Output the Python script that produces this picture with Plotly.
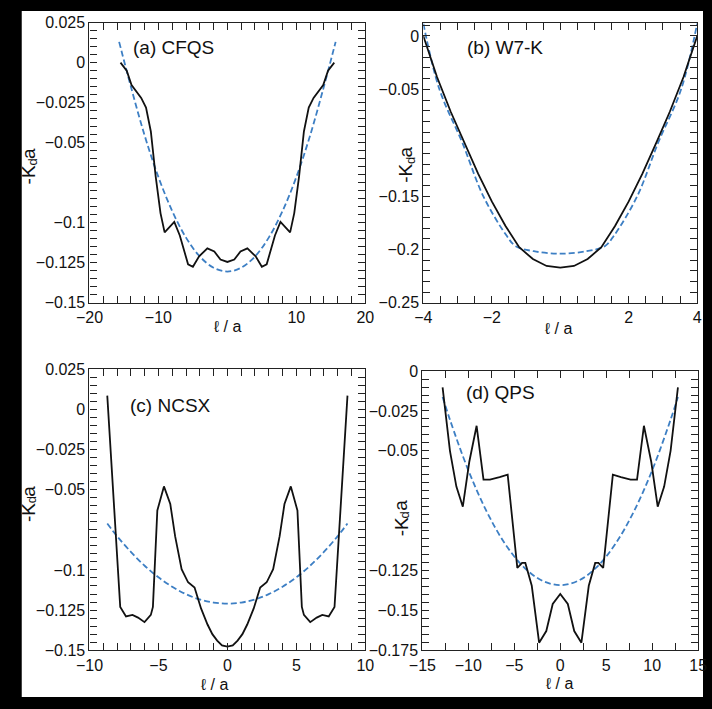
import plotly.graph_objects as go

# ---------------- data ----------------
# (a) CFQS
a_x = [-15.5, -14.6, -13.9, -12.5, -11.8, -11.1, -10.4, -9.7, -9.1, -7.7, -6.9, -5.7, -5.0, -4.1, -2.9, -1.9, -1.0, 0.0,
       1.0, 1.9, 2.9, 4.1, 5.0, 5.7, 6.9, 7.7, 9.1, 9.7, 10.4, 11.1, 11.8, 12.5, 13.9, 14.6, 15.5]
a_black = [0.0, -0.005, -0.014, -0.022, -0.028, -0.043, -0.071, -0.094, -0.106, -0.0995, -0.108, -0.126, -0.1275, -0.121,
           -0.116, -0.118, -0.123, -0.1245,
           -0.123, -0.118, -0.116, -0.121, -0.1275, -0.126, -0.108, -0.0995, -0.106, -0.094, -0.071, -0.043, -0.028,
           -0.022, -0.014, -0.005, 0.0]
a_fit_x = [-15.7, -14, -12, -10, -8, -6, -4, -2, 0, 2, 4, 6, 8, 10, 12, 14, 15.7]
a_fit = [0.013, -0.0149, -0.0455, -0.0715, -0.0927, -0.1093, -0.1211, -0.1281, -0.1305,
         -0.1281, -0.1211, -0.1093, -0.0927, -0.0715, -0.0455, -0.0149, 0.013]

# (b) W7-K
b_x = [-4.0, -3.6, -3.2, -2.8, -2.4, -2.0, -1.6, -1.2, -0.8, -0.4, 0.0, 0.4, 0.8, 1.2, 1.6, 2.0, 2.4, 2.8, 3.2, 3.6, 4.0]
b_black = [0.0, -0.0385, -0.071, -0.1005, -0.129, -0.155, -0.178, -0.198, -0.209, -0.2155, -0.217,
           -0.2155, -0.209, -0.198, -0.178, -0.155, -0.129, -0.1005, -0.071, -0.0385, 0.0]
b_fit_x = [-4.0, -3.53, -2.86, -2.25, -1.58, -1.3, -0.77, 0.0, 0.77, 1.3, 1.58, 2.25, 2.86, 3.53, 4.0]
b_fit = [0.0116, -0.05, -0.1, -0.15, -0.1866, -0.197, -0.2017, -0.204, -0.2017, -0.197, -0.1866, -0.15, -0.1, -0.05, 0.0116]

# (c) NCSX
c_x = [-8.71, -7.77, -7.35, -6.88, -6.48, -6.01, -5.55, -5.4, -5.08, -4.6, -4.14, -3.79, -3.32, -2.85, -2.38, -1.91,
       -1.44, -1.09, -0.74, -0.39, 0.0,
       0.39, 0.74, 1.09, 1.44, 1.91, 2.38, 2.85, 3.32, 3.79, 4.14, 4.6, 5.08, 5.4, 5.55, 6.01, 6.48, 6.88, 7.35, 7.77, 8.71]
c_black = [0.0085, -0.123, -0.129, -0.128, -0.1297, -0.1325, -0.128, -0.123, -0.063, -0.048, -0.059, -0.079, -0.0996,
           -0.1077, -0.111, -0.124, -0.134, -0.140, -0.144, -0.147, -0.1478,
           -0.147, -0.144, -0.140, -0.134, -0.124, -0.111, -0.1077, -0.0996, -0.079, -0.059, -0.048, -0.063, -0.123,
           -0.128, -0.1325, -0.1297, -0.128, -0.129, -0.123, 0.0085]
c_fit_x = [-8.71, -8, -7, -6, -5, -4, -3, -2, -1, 0, 1, 2, 3, 4, 5, 6, 7, 8, 8.71]
c_fit = [-0.0711, -0.079, -0.0888, -0.0974, -0.1046, -0.1105, -0.1151, -0.1184, -0.1203, -0.121,
         -0.1203, -0.1184, -0.1151, -0.1105, -0.1046, -0.0974, -0.0888, -0.079, -0.0711]

# (d) QPS
d_x = [-12.8, -12.0, -11.3, -10.6, -9.9, -9.1, -8.35, -7.65, -6.6, -5.72, -4.67, -4.15, -3.8, -3.1, -2.3, -1.52, -0.82,
       0.0,
       0.82, 1.52, 2.3, 3.1, 3.8, 4.15, 4.67, 5.72, 6.6, 7.65, 8.35, 9.1, 9.9, 10.6, 11.3, 12.0, 12.8]
d_black = [-0.0102, -0.050, -0.0724, -0.085, -0.057, -0.0343, -0.068, -0.068, -0.0665, -0.065, -0.1234, -0.1203,
           -0.1203, -0.1346, -0.1703, -0.163, -0.146, -0.1397,
           -0.146, -0.163, -0.1703, -0.1346, -0.1203, -0.1203, -0.1234, -0.065, -0.0665, -0.068, -0.068, -0.0343,
           -0.057, -0.085, -0.0724, -0.050, -0.0102]
d_fit_x = [-12.8, -12, -10, -8, -6, -4, -2, 0, 2, 4, 6, 8, 10, 12, 12.8]
d_fit = [-0.0162, -0.0305, -0.0622, -0.0881, -0.1083, -0.1227, -0.1313, -0.1342,
         -0.1313, -0.1227, -0.1083, -0.0881, -0.0622, -0.0305, -0.0162]

panel_titles = ["(a) CFQS", "(b) W7-K", "(c) NCSX", "(d) QPS"]

# labelled major ticks
a_xticks = [-20, -10, 10, 20]
a_xlabels = ["−20", "−10", "10", "20"]
a_yticks = [0.025, 0, -0.025, -0.05, -0.1, -0.125, -0.15]
a_ylabels = ["0.025", "0", "−0.025", "−0.05", "−0.1", "−0.125", "−0.15"]
b_xticks = [-4, -2, 2, 4]
b_xlabels = ["−4", "−2", "2", "4"]
b_yticks = [0, -0.05, -0.15, -0.2, -0.25]
b_ylabels = ["0", "−0.05", "−0.15", "−0.2", "−0.25"]
c_xticks = [-10, -5, 0, 5, 10]
c_xlabels = ["−10", "−5", "0", "5", "10"]
c_yticks = [0.025, 0, -0.025, -0.05, -0.1, -0.125, -0.15]
c_ylabels = ["0.025", "0", "−0.025", "−0.05", "−0.1", "−0.125", "−0.15"]
d_xticks = [-15, -10, -5, 0, 5, 10, 15]
d_xlabels = ["−15", "−10", "−5", "0", "5", "10", "15"]
d_yticks = [0, -0.025, -0.05, -0.125, -0.15, -0.175]
d_ylabels = ["0", "−0.025", "−0.05", "−0.125", "−0.15", "−0.175"]

# unlabelled major ticks (label hidden behind axis title in the original)
a_xbare, a_ybare = [0], [-0.075]
b_xbare, b_ybare = [0], [-0.1]
c_xbare, c_ybare = [], [-0.075]
d_xbare, d_ybare = [], [-0.075, -0.1]

# ---------------- figure ----------------
W, H = 712, 709
FONT = "Liberation Sans, Arial, sans-serif"
BLACK = "#111111"
BLUE = "#3d7fc4"
AX = "#222222"
TXT = "#111111"

fig = go.Figure()

panels = [
    dict(x=a_x, y=a_black, fx=a_fit_x, fy=a_fit, xr=[-20, 20], yr=[-0.15, 0.025], xt=a_xticks, xl=a_xlabels,
         yt=a_yticks, yl=a_ylabels, xb=a_xbare, yb=a_ybare, xminor=2, yminor=0.005, px=(78, 363), py=(15, 302)),
    dict(x=b_x, y=b_black, fx=b_fit_x, fy=b_fit, xr=[-4, 4], yr=[-0.25, 0.0125], xt=b_xticks, xl=b_xlabels,
         yt=b_yticks, yl=b_ylabels, xb=b_xbare, yb=b_ybare, xminor=0.5, yminor=0.01, px=(423, 706), py=(15, 302)),
    dict(x=c_x, y=c_black, fx=c_fit_x, fy=c_fit, xr=[-10, 10], yr=[-0.15, 0.025], xt=c_xticks, xl=c_xlabels,
         yt=c_yticks, yl=c_ylabels, xb=c_xbare, yb=c_ybare, xminor=1, yminor=0.005, px=(78, 363), py=(370, 658)),
    dict(x=d_x, y=d_black, fx=d_fit_x, fy=d_fit, xr=[-15, 15], yr=[-0.175, 0], xt=d_xticks, xl=d_xlabels,
         yt=d_yticks, yl=d_ylabels, xb=d_xbare, yb=d_ybare, xminor=2.5, yminor=0.005, px=(422, 707), py=(372, 658)),
]

tickfont = dict(family=FONT, size=16, color=TXT)

for i, p in enumerate(panels, start=1):
    xa = "x" if i == 1 else f"x{i}"
    ya = "y" if i == 1 else f"y{i}"
    fig.add_trace(go.Scatter(x=p["fx"], y=p["fy"], mode="lines", xaxis=xa, yaxis=ya,
                             line=dict(color=BLUE, width=1.8, dash="6px,3px", shape="spline", smoothing=1.0),
                             showlegend=False, hoverinfo="skip"))
    fig.add_trace(go.Scatter(x=p["x"], y=p["y"], mode="lines", xaxis=xa, yaxis=ya,
                             line=dict(color=BLACK, width=1.8),
                             showlegend=False, hoverinfo="skip"))
    x0, x1 = p["px"]
    y0, y1 = p["py"]
    xdom = [x0 / W, x1 / W]
    ydom = [1 - y1 / H, 1 - y0 / H]
    common = dict(showline=True, linecolor=AX, linewidth=1.2, mirror="allticks", ticks="inside",
                  ticklen=7, tickwidth=1.2, tickcolor=AX, showgrid=False, zeroline=False,
                  tickfont=tickfont, tickmode="array")
    fig.layout["xaxis" if i == 1 else f"xaxis{i}"] = dict(
        domain=xdom, range=p["xr"], anchor=ya, tickvals=p["xt"], ticktext=p["xl"],
        minor=dict(ticks="inside", ticklen=4, tickwidth=1, tickcolor=AX, dtick=p["xminor"],
                   tick0=0, showgrid=False),
        **common)
    fig.layout["yaxis" if i == 1 else f"yaxis{i}"] = dict(
        domain=ydom, range=p["yr"], anchor=xa, tickvals=p["yt"], ticktext=p["yl"],
        minor=dict(ticks="inside", ticklen=4, tickwidth=1, tickcolor=AX, dtick=p["yminor"],
                   tick0=0, showgrid=False),
        **common)

    # overlay axes that only carry the unlabelled long ticks
    ox = f"x{i + 4}"
    oy = f"y{i + 4}"
    bare = dict(showline=False, ticks="inside", ticklen=7, tickwidth=1.2, tickcolor=AX, showgrid=False,
                zeroline=False, showticklabels=False, tickmode="array", mirror="allticks")
    fig.layout[f"xaxis{i + 4}"] = dict(domain=xdom, range=p["xr"], overlaying=xa, anchor=ya,
                                        tickvals=p["xb"], **bare)
    fig.layout[f"yaxis{i + 4}"] = dict(domain=ydom, range=p["yr"], overlaying=ya, anchor=xa,
                                        tickvals=p["yb"], **bare)
    fig.add_trace(go.Scatter(x=[p["xr"][0]], y=[p["yr"][0]], xaxis=ox, yaxis=ya, mode="markers",
                             marker=dict(opacity=0), showlegend=False, hoverinfo="skip"))
    fig.add_trace(go.Scatter(x=[p["xr"][0]], y=[p["yr"][0]], xaxis=xa, yaxis=oy, mode="markers",
                             marker=dict(opacity=0), showlegend=False, hoverinfo="skip"))

ann = []


def paper_text(text, px, py, size, angle=0, xanchor="center"):
    ann.append(dict(text=text, x=px / W, y=1 - py / H, xref="paper", yref="paper", xanchor=xanchor,
                    yanchor="middle", textangle=angle, showarrow=False,
                    font=dict(family=FONT, size=size, color=TXT)))


title_pos = [(121, 40), (466, 40), (118, 407), (465, 394)]
for t, (tx, ty) in zip(panel_titles, title_pos):
    paper_text(t, tx, ty, 19, xanchor="left")

# rotated y titles "-K_d a", built from pieces (main text, smaller lowered subscript)
ylab_pos = [(15, 162), (405, 160), (15, 508), (400, 523)]
for (cx, cy) in ylab_pos:
    paper_text("-K", cx, cy + 9, 19, angle=-90)
    paper_text("d", cx + 4, cy - 4, 13, angle=-90)
    paper_text("a", cx, cy - 13, 19, angle=-90)

xlab_pos = [(221, 326), (563, 328), (208, 693), (564, 692)]
for (tx, ty) in xlab_pos:
    paper_text("ℓ / a", tx, ty, 16)

shapes = [dict(type="rect", xref="paper", yref="paper", x0=8 / W, x1=1.0, y0=3 / H, y1=1 - 3 / H,
               fillcolor="white", line=dict(width=0), layer="below")]

fig.update_layout(width=W, height=H, margin=dict(l=0, r=0, t=0, b=0), paper_bgcolor="black",
                  plot_bgcolor="white", annotations=ann, shapes=shapes, showlegend=False)

fig.write_html("out.html")
